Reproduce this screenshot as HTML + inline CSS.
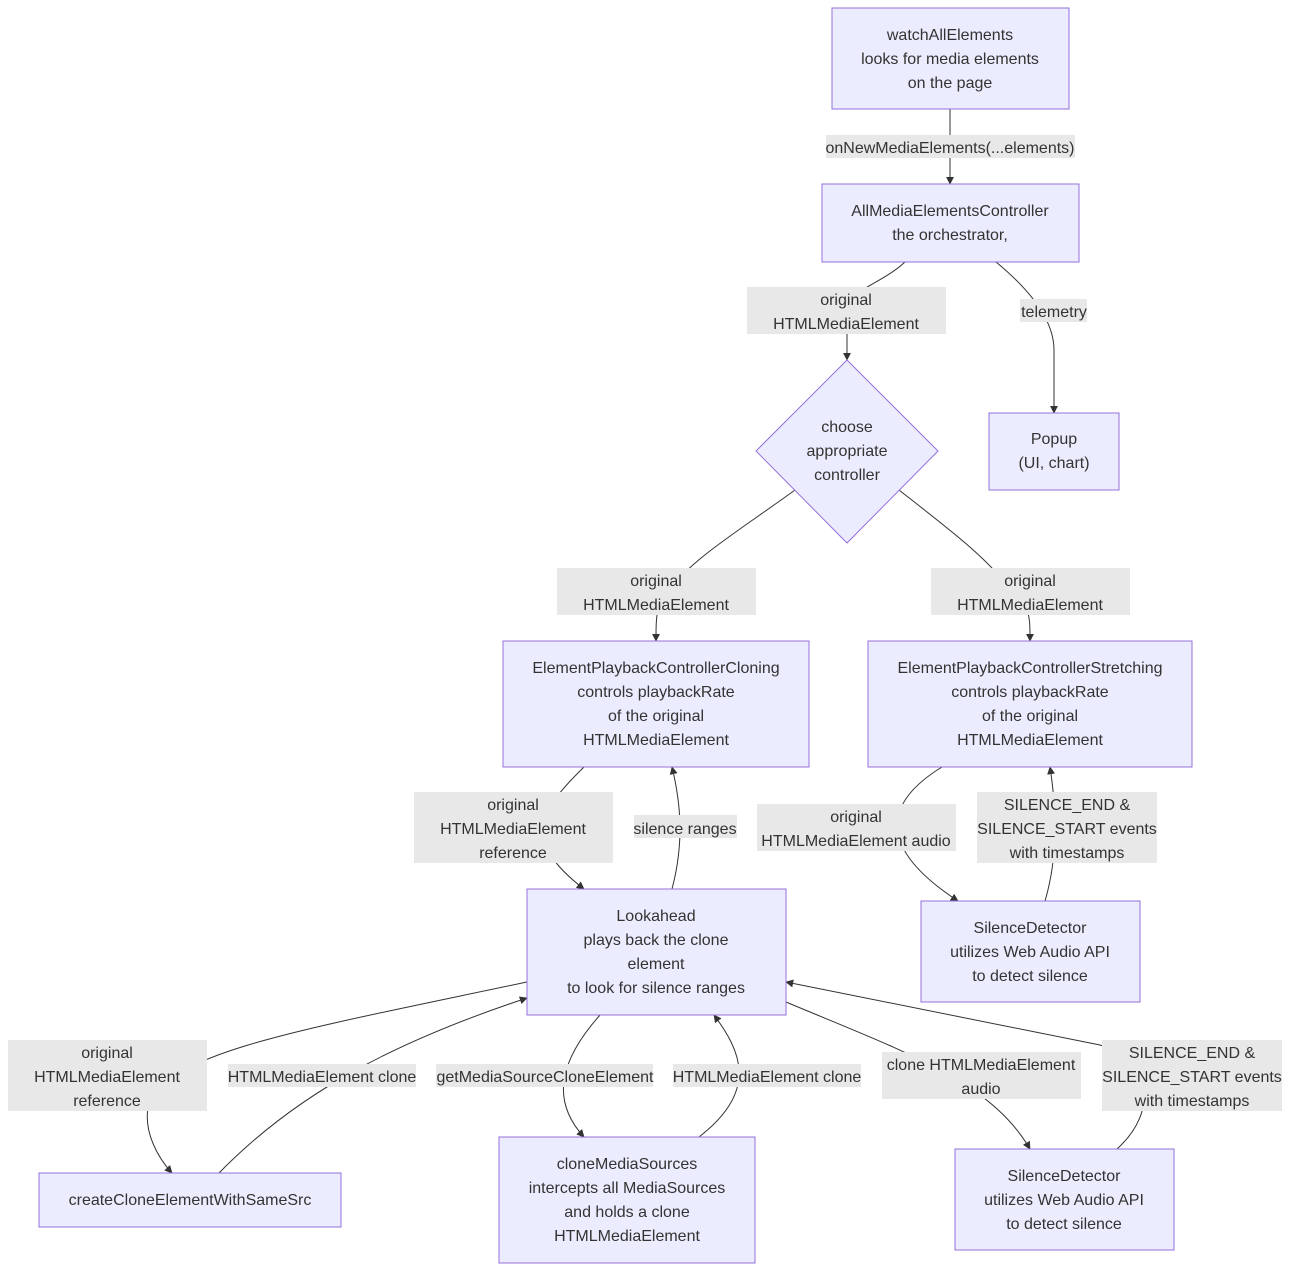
<!DOCTYPE html>
<html><head><meta charset="utf-8"><style>
html,body{margin:0;padding:0;background:#fff}
svg{display:block}
text{font-family:"Liberation Sans",Arial,sans-serif;font-size:16px;fill:#333;text-anchor:middle;dominant-baseline:middle;transform:translateY(2px)}
.n{fill:#ECECFF;stroke:#9370DB;stroke-width:1}
.l{fill:#e8e8e8}
.e{fill:none;stroke:#333;stroke-width:1}
</style></head><body>
<svg width="1290" height="1271" viewBox="0 0 1290 1271">
<defs><marker id="a" viewBox="0 0 10 10" refX="9" refY="5" markerWidth="8" markerHeight="8" orient="auto"><path d="M0,0L10,5L0,10z" fill="#333"/></marker></defs>
<!-- edges -->
<path class="e" marker-end="url(#a)" d="M950,109 L950,184"/>
<path class="e" marker-end="url(#a)" d="M905,262 C880,285 848,290 847,310 L847,360"/>
<path class="e" marker-end="url(#a)" d="M996,262 C1030,290 1054,320 1054,350 L1054,413"/>
<path class="e" marker-end="url(#a)" d="M795,490 C740,530 690,560 670,590 C656,605 656,615 656,641"/>
<path class="e" marker-end="url(#a)" d="M899,490 C950,530 990,560 1010,590 C1030,605 1030,615 1030,641"/>
<path class="e" marker-end="url(#a)" d="M584,767 C540,810 520,840 584,889"/>
<path class="e" marker-end="url(#a)" d="M672,889 C685,840 680,800 672,767"/>
<path class="e" marker-end="url(#a)" d="M942,767 C880,805 880,850 958,901"/>
<path class="e" marker-end="url(#a)" d="M1045,901 C1060,850 1055,800 1050,767"/>
<path class="e" marker-end="url(#a)" d="M527,982 C300,1030 180,1050 150,1100 C140,1130 160,1160 172,1173"/>
<path class="e" marker-end="url(#a)" d="M219,1173 C300,1090 400,1040 527,998"/>
<path class="e" marker-end="url(#a)" d="M600,1015 C560,1060 550,1100 584,1137"/>
<path class="e" marker-end="url(#a)" d="M699,1137 C760,1090 740,1050 714,1015"/>
<path class="e" marker-end="url(#a)" d="M786,1002 C900,1050 990,1080 1030,1149"/>
<path class="e" marker-end="url(#a)" d="M1117,1149 C1160,1110 1150,1060 1100,1045 L786,982"/>
<!-- nodes -->
<rect class="n" x="832" y="8" width="237" height="101"/>
<text x="950" y="34">watchAllElements</text><text x="950" y="58">looks for media elements</text><text x="950" y="82">on the page</text>
<rect class="n" x="822" y="184" width="257" height="78"/>
<text x="950" y="210">AllMediaElementsController</text><text x="950" y="234">the orchestrator,</text>
<polygon class="n" points="847,360 938,451 847,543 756,451"/>
<text x="847" y="426">choose</text><text x="847" y="450">appropriate</text><text x="847" y="474">controller</text>
<rect class="n" x="989" y="413" width="130" height="77"/>
<text x="1054" y="438">Popup</text><text x="1054" y="462">(UI, chart)</text>
<rect class="n" x="503" y="641" width="306" height="126"/>
<text x="656" y="667">ElementPlaybackControllerCloning</text><text x="656" y="691">controls playbackRate</text><text x="656" y="715">of the original</text><text x="656" y="739">HTMLMediaElement</text>
<rect class="n" x="868" y="641" width="324" height="126"/>
<text x="1030" y="667">ElementPlaybackControllerStretching</text><text x="1030" y="691">controls playbackRate</text><text x="1030" y="715">of the original</text><text x="1030" y="739">HTMLMediaElement</text>
<rect class="n" x="527" y="889" width="259" height="126"/>
<text x="656" y="915">Lookahead</text><text x="656" y="939">plays back the clone</text><text x="656" y="963">element</text><text x="656" y="987">to look for silence ranges</text>
<rect class="n" x="921" y="901" width="219" height="101"/>
<text x="1030" y="927">SilenceDetector</text><text x="1030" y="951">utilizes Web Audio API</text><text x="1030" y="975">to detect silence</text>
<rect class="n" x="39" y="1173" width="302" height="54"/>
<text x="190" y="1199">createCloneElementWithSameSrc</text>
<rect class="n" x="499" y="1137" width="256" height="126"/>
<text x="627" y="1163">cloneMediaSources</text><text x="627" y="1187">intercepts all MediaSources</text><text x="627" y="1211">and holds a clone</text><text x="627" y="1235">HTMLMediaElement</text>
<rect class="n" x="955" y="1149" width="219" height="101"/>
<text x="1064" y="1175">SilenceDetector</text><text x="1064" y="1199">utilizes Web Audio API</text><text x="1064" y="1223">to detect silence</text>
<!-- labels -->
<rect class="l" x="826" y="135" width="249" height="23"/><text x="950" y="147">onNewMediaElements(...elements)</text>
<rect class="l" x="747" y="287" width="199" height="47"/><text x="846" y="299">original</text><text x="846" y="323">HTMLMediaElement</text>
<rect class="l" x="1020" y="299" width="67" height="23"/><text x="1054" y="311">telemetry</text>
<rect class="l" x="557" y="568" width="199" height="47"/><text x="656" y="580">original</text><text x="656" y="604">HTMLMediaElement</text>
<rect class="l" x="931" y="568" width="199" height="47"/><text x="1030" y="580">original</text><text x="1030" y="604">HTMLMediaElement</text>
<rect class="l" x="414" y="792" width="199" height="71"/><text x="513" y="804">original</text><text x="513" y="828">HTMLMediaElement</text><text x="513" y="852">reference</text>
<rect class="l" x="634" y="815" width="103" height="23"/><text x="685" y="828">silence ranges</text>
<rect class="l" x="757" y="804" width="199" height="47"/><text x="856" y="816">original</text><text x="856" y="840">HTMLMediaElement audio</text>
<rect class="l" x="977" y="792" width="180" height="71"/><text x="1067" y="804">SILENCE_END &amp;</text><text x="1067" y="828">SILENCE_START events</text><text x="1067" y="852">with timestamps</text>
<rect class="l" x="8" y="1040" width="199" height="71"/><text x="107" y="1052">original</text><text x="107" y="1076">HTMLMediaElement</text><text x="107" y="1100">reference</text>
<rect class="l" x="228" y="1064" width="188" height="23"/><text x="322" y="1076">HTMLMediaElement clone</text>
<rect class="l" x="436" y="1064" width="217" height="23"/><text x="545" y="1076">getMediaSourceCloneElement</text>
<rect class="l" x="673" y="1064" width="188" height="23"/><text x="767" y="1076">HTMLMediaElement clone</text>
<rect class="l" x="882" y="1052" width="199" height="47"/><text x="981" y="1064">clone HTMLMediaElement</text><text x="981" y="1088">audio</text>
<rect class="l" x="1102" y="1040" width="180" height="71"/><text x="1192" y="1052">SILENCE_END &amp;</text><text x="1192" y="1076">SILENCE_START events</text><text x="1192" y="1100">with timestamps</text>
</svg>
</body></html>
